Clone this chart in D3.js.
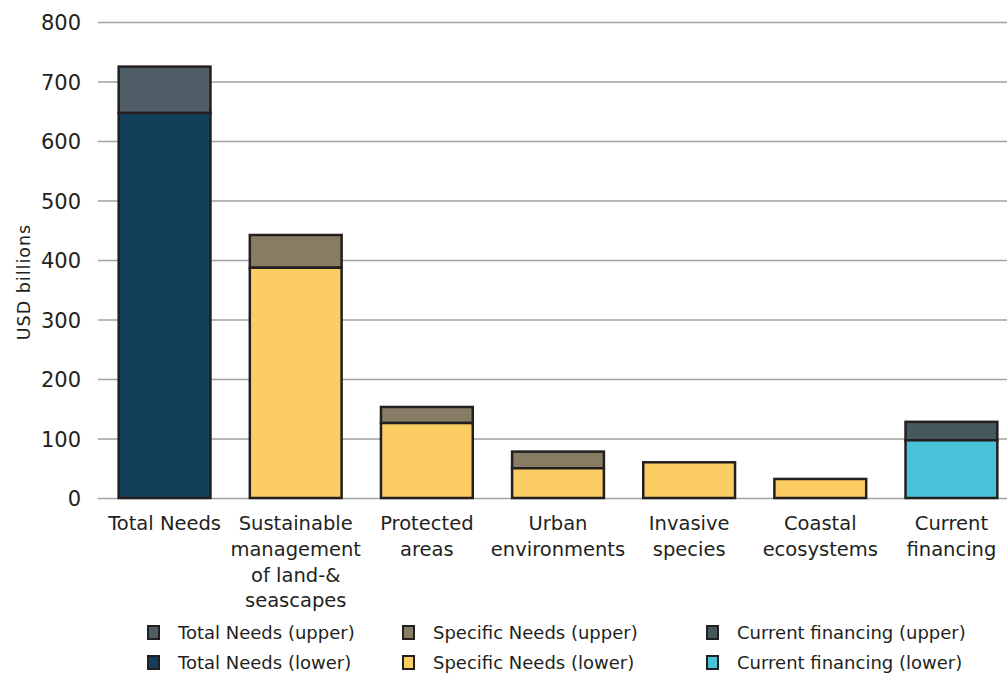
<!DOCTYPE html>
<html><head><meta charset="utf-8">
<script src="https://cdn.jsdelivr.net/npm/d3@7"></script>
<style>body{margin:0;background:#fff}svg{display:block}text{font-family:"DejaVu Sans",sans-serif;fill:#231f20}</style>
</head><body><svg id="c" width="1007" height="677"></svg>
<script>
const categories = ["Total Needs","Sustainable management of land-& seascapes","Protected areas","Urban environments","Invasive species","Coastal ecosystems","Current financing"];
const labelLines = [["Total Needs"],["Sustainable","management","of land-&","seascapes"],["Protected","areas"],["Urban","environments"],["Invasive","species"],["Coastal","ecosystems"],["Current","financing"]];
const lowerValues = [647, 387, 126, 50, 60, 32, 97];
const upperValues = [725, 442, 153, 78, 60, 32, 128];
const groups = ["total","specific","specific","specific","specific","specific","current"];
const yTicks = [0,100,200,300,400,500,600,700,800];
const colors = {total:["#123f5a","#4f5e66"], specific:["#fccd62","#877d64"], current:["#49c3da","#45595c"]};
const legendItems = [["Total Needs (upper)","#4f5e66"],["Specific Needs (upper)","#877d64"],["Current financing (upper)","#45595c"],["Total Needs (lower)","#123f5a"],["Specific Needs (lower)","#fccd62"],["Current financing (lower)","#49c3da"]];

const svg = d3.select("#c");
const y = d3.scaleLinear().domain([0,800]).range([498,22]);
const x = d3.scaleBand().domain(categories).range([99,1017]).paddingInner(0.3).paddingOuter(0.15);

// grid
const gAxis = svg.append("g").attr("transform","translate(98,0)")
  .call(d3.axisLeft(y).tickValues(yTicks).tickSize(-909).tickPadding(17));
gAxis.select(".domain").remove();
gAxis.selectAll(".tick line").attr("stroke","#a2a2a2").attr("stroke-width",1.5);
gAxis.selectAll(".tick text").attr("font-size",21).attr("fill","#231f20").attr("dy","0.36em").attr("font-family","DejaVu Sans");

svg.append("text").attr("transform","translate(30,282) rotate(-90)").attr("text-anchor","middle")
  .attr("font-family","Noto Sans").attr("letter-spacing",1)
  .attr("font-size",17.5).text("USD billions");

// bars
const bars = svg.append("g");
categories.forEach((c,i)=>{
  const col = colors[groups[i]];
  const bx = x(c), bw = x.bandwidth();
  if (upperValues[i] > lowerValues[i]) {
    bars.append("rect").attr("x",bx).attr("width",bw)
      .attr("y",y(upperValues[i])).attr("height",y(lowerValues[i])-y(upperValues[i]))
      .attr("fill",col[1]).attr("stroke","#231f20").attr("stroke-width",2.5);
  }
  bars.append("rect").attr("x",bx).attr("width",bw)
    .attr("y",y(lowerValues[i])).attr("height",y(0)-y(lowerValues[i]))
    .attr("fill",col[0]).attr("stroke","#231f20").attr("stroke-width",2.5);
});

// category labels
categories.forEach((c,i)=>{
  const t = svg.append("text").attr("text-anchor","middle").attr("font-size",19.5)
    .attr("x", x(c)+x.bandwidth()/2).attr("y",0);
  labelLines[i].forEach((l,j)=>{
    t.append("tspan").attr("x",x(c)+x.bandwidth()/2).attr("y",530+j*25.8).text(l);
  });
});

// legend
const lx = [148,403,707], ly = [633,663];
legendItems.forEach((d,i)=>{
  const cx = lx[i%3], cy = ly[Math.floor(i/3)];
  svg.append("rect").attr("x",cx).attr("y",cy-7).attr("width",11).attr("height",13)
    .attr("fill",d[1]).attr("stroke","#231f20").attr("stroke-width",2);
  svg.append("text").attr("x",cx+30).attr("y",cy).attr("dy","0.35em").attr("font-size",18).text(d[0]);
});
</script></body></html>
